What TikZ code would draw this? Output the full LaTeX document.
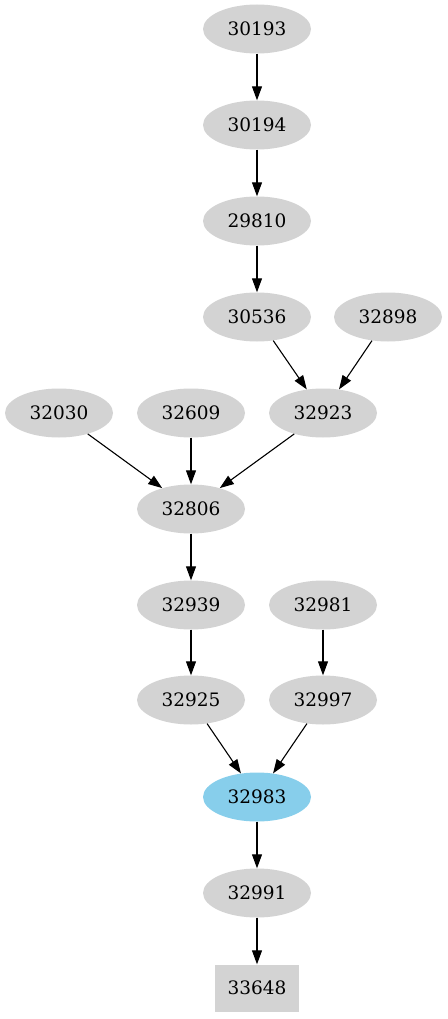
\documentclass[tikz,border=0pt]{standalone}
\usepackage{fontspec}
\setmainfont{DejaVu Serif}
\usetikzlibrary{arrows.meta,shapes.geometric}
\definecolor{gvgray}{RGB}{211,211,211}
\definecolor{gvblue}{RGB}{135,206,235}
\begin{document}
\begin{tikzpicture}[x=1pt,y=-1pt,
    vertex/.style={ellipse,fill=gvgray,minimum width=108pt,minimum height=49pt,inner sep=0pt,font=\fontsize{18.5}{22}\selectfont},
    sink/.style={rectangle,fill=gvgray,minimum width=84pt,minimum height=47pt,inner sep=0pt,font=\fontsize{18.5}{22}\selectfont},
    edge/.style={draw,line width=1.1pt,-{Triangle[length=14pt,width=10pt]}}]
    \useasboundingbox (0,0) rectangle (447,1019);
    % nodes
    \node[vertex] (n30193) at (257,29) {30193};
    \node[vertex] (n30194) at (257,125) {30194};
    \node[vertex] (n29810) at (257,221) {29810};
    \node[vertex] (n30536) at (257,317) {30536};
    \node[vertex] (n32898) at (388,317) {32898};
    \node[vertex] (n32030) at (59,413) {32030};
    \node[vertex] (n32609) at (191,413) {32609};
    \node[vertex] (n32923) at (323,413) {32923};
    \node[vertex] (n32806) at (191,509) {32806};
    \node[vertex] (n32939) at (191,605) {32939};
    \node[vertex] (n32981) at (323,605) {32981};
    \node[vertex] (n32925) at (191,700) {32925};
    \node[vertex] (n32997) at (323,700) {32997};
    \node[vertex,fill=gvblue] (n32983) at (257,797) {32983};
    \node[vertex] (n32991) at (257,893) {32991};
    \node[sink] (n33648) at (257,988) {33648};
    % edges
    \draw[edge] (n30193) -- (n30194);
    \draw[edge] (n30194) -- (n29810);
    \draw[edge] (n29810) -- (n30536);
    \draw[edge] (n30536) -- (n32923);
    \draw[edge] (n32898) -- (n32923);
    \draw[edge] (n32030) -- (n32806);
    \draw[edge] (n32609) -- (n32806);
    \draw[edge] (n32923) -- (n32806);
    \draw[edge] (n32806) -- (n32939);
    \draw[edge] (n32939) -- (n32925);
    \draw[edge] (n32981) -- (n32997);
    \draw[edge] (n32925) -- (n32983);
    \draw[edge] (n32997) -- (n32983);
    \draw[edge] (n32983) -- (n32991);
    \draw[edge] (n32991) -- (n33648);
\end{tikzpicture}
\end{document}
